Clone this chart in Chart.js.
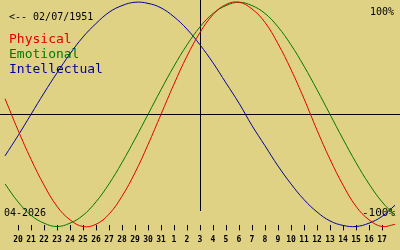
<!DOCTYPE html>
<html>
<head>
<meta charset="utf-8">
<script src="https://cdn.jsdelivr.net/npm/chart.js@4"></script>
<style>
  html, body { margin: 0; padding: 0; background: #e0d284; }
  #box { width: 400px; height: 250px; position: relative; }
</style>
</head>
<body>
<div id="box"><canvas id="grafico-bio"></canvas></div>
<script>
// dias do eixo (mar/abr 2026), com posições vazias nas bordas
const dias = ['', '20', '21', '22', '23', '24', '25', '26', '27', '28', '29', '30', '31',
    '1', '2', '3', '4', '5', '6', '7', '8', '9', '10', '11', '12', '13', '14', '15', '16', '17', ''];
const hojeIdx = 15; // dia 3

// valores (-1 .. 1)
const fisico = [0.14, -0.14, -0.40, -0.63, -0.82, -0.94, -1.00, -0.98, -0.89, -0.73, -0.52, -0.27,
    0.00, 0.27, 0.52, 0.73, 0.89, 0.98, 1.00, 0.94, 0.82, 0.63, 0.40, 0.14, -0.14, -0.40, -0.63,
    -0.82, -0.94, -1.00, -0.98];
const emocional = [-0.62, -0.78, -0.90, -0.97, -1.00, -0.97, -0.90, -0.78, -0.62, -0.43, -0.22,
    0.00, 0.22, 0.43, 0.62, 0.78, 0.90, 0.97, 1.00, 0.97, 0.90, 0.78, 0.62, 0.43, 0.22, 0.00,
    -0.22, -0.43, -0.62, -0.78, -0.90];
const intelectual = [-0.37, -0.19, 0.00, 0.19, 0.37, 0.54, 0.69, 0.81, 0.91, 0.97, 1.00, 0.99,
    0.95, 0.87, 0.76, 0.62, 0.46, 0.28, 0.10, -0.10, -0.28, -0.46, -0.62, -0.76, -0.87, -0.95,
    -0.99, -1.00, -0.97, -0.91, -0.81];

const nomes = ['Physical', 'Emotional', 'Intellectual'];
const cores = ['#e00000', '#007800', '#000098'];

// linhas dos eixos e textos
const extras = {
    id: 'extras',
    beforeDatasetsDraw(chart) {
        const c = chart.ctx;
        const x = chart.scales.x, y = chart.scales.y;
        c.save();
        c.strokeStyle = '#000';
        c.lineWidth = 1;
        const y0 = Math.round(y.getPixelForValue(0)) + 0.5;
        c.beginPath();
        c.moveTo(0, y0);
        c.lineTo(chart.width, y0);
        const xh = Math.round(x.getPixelForValue(hojeIdx)) + 0.5;
        c.moveTo(xh, 0);
        c.lineTo(xh, 211);
        c.stroke();

        c.fillStyle = '#000';
        c.textBaseline = 'alphabetic';
        c.font = '10px "DejaVu Sans Mono"';
        c.fillText('<-- 02/07/1951', 9, 20);
        c.fillText('04-2026', 4, 216);
        c.textAlign = 'right';
        c.fillText('100%', 394, 15);
        c.font = '11px "DejaVu Sans Mono"';
        c.fillText('-100%', 395, 216);
        c.textAlign = 'left';
        c.font = '13px "DejaVu Sans Mono"';
        nomes.forEach((n, i) => {
            c.fillStyle = cores[i];
            c.fillText(n, 9, 43 + i * 15);
        });
        c.restore();
    }
};

const ctx = document.getElementById('grafico-bio').getContext('2d');
new Chart(ctx, {
    type: 'line',
    data: {
        labels: dias,
        datasets: [fisico, emocional, intelectual].map((serie, idx) => ({
            label: nomes[idx],
            data: serie,
            borderColor: cores[idx],
            borderWidth: 1,
            pointRadius: 0,
            tension: 0.4,
            fill: false,
            clip: false
        }))
    },
    options: {
        responsive: true,
        maintainAspectRatio: false,
        animation: false,
        layout: { padding: { left: 0, right: 0, top: 0, bottom: 0 } },
        plugins: { legend: { display: false }, tooltip: { enabled: false } },
        scales: {
            x: {
                offset: false,
                border: { display: false },
                grid: {
                    drawOnChartArea: false,
                    tickLength: 5,
                    tickColor: c => (c.index === 0 || c.index === dias.length - 1) ? 'rgba(0,0,0,0)' : '#000'
                },
                ticks: {
                    autoSkip: false,
                    maxRotation: 0,
                    padding: 5,
                    color: '#000',
                    font: { family: 'DejaVu Sans Mono', size: 8, weight: 'bold' }
                }
            },
            y: {
                display: false,
                min: -0.99,
                max: 1.02
            }
        }
    },
    plugins: [extras]
});
</script>
</body>
</html>
